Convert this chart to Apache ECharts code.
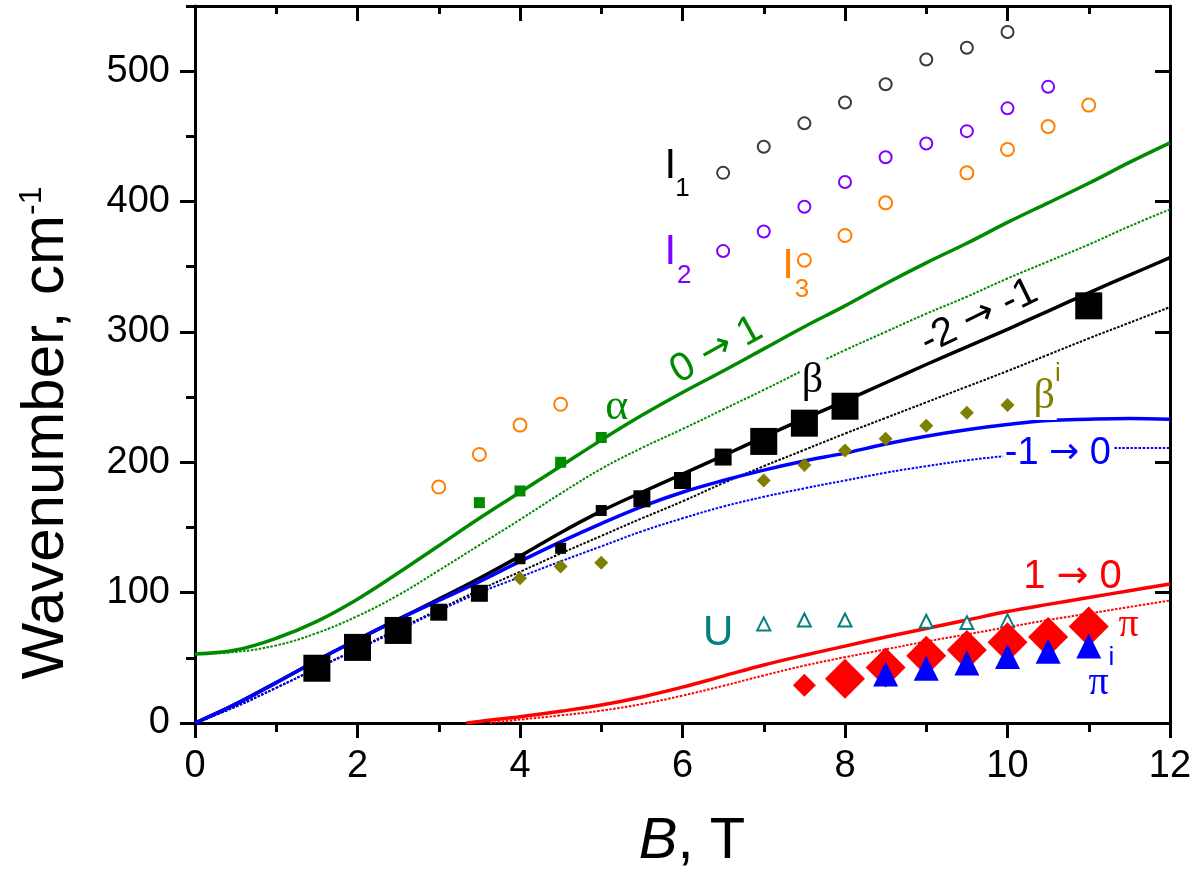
<!DOCTYPE html>
<html><head><meta charset="utf-8">
<script src="https://cdn.jsdelivr.net/npm/echarts@6/dist/echarts.min.js"></script>
<style>html,body{margin:0;padding:0;background:#fff}#c{width:1200px;height:875px}</style>
</head><body><div id="c"></div>
<script>
// ---------- data ----------
const B = [0,0.5,1,1.5,2,2.5,3,3.5,4,4.5,5,5.5,6,6.5,7,7.5,8,8.5,9,9.5,10,10.5,11,11.5,12];
const green01Solid  = [53,56,65,78,95,115,136,157,177,197,217,236,253.5,270,287,304,320,337,353,368,384,399,414,430,445];
const green01Dotted = [53,54.5,59.5,69,82,98,117,136.5,156,176,195,211,225.5,240.5,255.5,271,286,300,314,327,341,354,367,381,394];
const black21Solid  = [0,14.5,31,48,64,79.5,95,111,128,146,162.5,177,191,205,219.5,233.5,247,261,275,288.5,302,316,330,343.5,357];
const black21Dotted = [0,12.5,27,42,57,72,87,102,116,130,143.5,157,170,184,197,209.5,222,234,246,258,270,282.5,295,307,319];
const blue10Solid   = [0,14.5,31,48,64,79.5,94,108.5,124,139,153,166,177,186,194,201,207,214,220,225,229,232,233,233.5,233];
const blue10Dotted  = [0,12.5,27,42,56.5,71,86,100,112,124,135.5,147,157,166,173.5,180,186,192,197,201.5,205,208,210,211,211];
const red10SolidB   = [3.34,3.5,4,4.5,5,5.5,6,6.5,7,7.5,8,8.5,9,9.5,10,10.5,11,11.5,12];
const red10Solid    = [0,1.2,4.8,9,13.8,20,27.5,36,44.5,52,59,66,72.5,79,85.5,91,96.2,101.5,106.6];
const red10DottedB  = [3.63,4,4.5,5,5.5,6,6.5,7,7.5,8,8.5,9,9.5,10,10.5,11,11.5,12];
const red10Dotted   = [0,2.6,5.8,9.5,14.5,21,28.5,36.5,44,50.5,56.5,62.5,68,73.5,79,84,89,94];

const alphaPts   = [[3.5,169],[4,178],[4.5,200],[5,219]];
const betaLarge  = [[1.5,42],[2,58],[2.5,71],[7,216],[7.5,230],[8,243],[11,320]];
const betaMedium = [[3,85],[3.5,99.5],[5.5,172],[6,186],[6.5,204]];
const betaSmall  = [[4,126],[4.5,134],[5,163]];
const betaI      = [[4,111],[4.5,120],[5,123],[7,186],[7.5,198],[8,209],[8.5,218],[9,228],[9.5,238],[10,244]];
const orangeLow  = [[3,181],[3.5,206],[4,228.5],[4.5,244.5]];
const I1 = [[6.5,422],[7,442],[7.5,460],[8,476],[8.5,490],[9,509],[9.5,518],[10,530]];
const I2 = [[6.5,362],[7,377],[7.5,396],[8,415],[8.5,434],[9,444.5],[9.5,454],[10,471.5],[10.5,488]];
const I3 = [[7.5,355],[8,374],[8.5,399],[9.5,422],[10,440],[10.5,457.5],[11,474]];
const U  = [[7,76],[7.5,79],[8,79],[9,78],[9.5,77],[10,78.5]];
const piSmall = [[7.5,29]];
const piLarge = [[8,34],[8.5,42.5],[9,51.5],[9.5,56],[10,62],[10.5,66],[11,74]];
const piI = [[8.5,37.5],[9,42],[9.5,46],[10,51],[10.5,55],[11,59]];

const xTicks = [0,2,4,6,8,10,12];
const yMajor = [0,100,200,300,400,500];
const yMinor = [50,150,250,350,450,550];

// ---------- styling ----------
const SANS = '"Liberation Sans", Arial, sans-serif';
const SERIF = '"Liberation Serif", "Times New Roman", serif';
const ARROWF = '"DejaVu Sans", sans-serif';
const C = {green:'#008a00', blue:'#0000ff', red:'#ff0000', black:'#000000', olive:'#808000',
           teal:'#008080', violet:'#8000ff', orange:'#ff8000', gray:'#3a3a3a'};

function pairs(xs, ys){ return xs.map((x,i)=>[x, ys[i]]); }

const chart = echarts.init(document.getElementById('c'), null, {renderer:'canvas'});

function lineS(data, color, dotted){
  return {type:'line', data, showSymbol:false, symbol:'none', smooth:0.4, silent:true,
    lineStyle:{color, width: dotted?2:3.5, type: dotted?[2.5,1.5]:'solid', opacity:1}, z: dotted?2:3};
}
function scat(data, symbol, size, color, empty){
  return {type:'scatter', data, symbol, symbolSize:size, silent:true, z:5,
    itemStyle: empty ? {color:'#fff', borderColor:color, borderWidth:2, opacity:1} : {color, opacity:1}};
}

const tickLine = {color:'#000', width:3};
const option = {
  animation:false,
  backgroundColor:'#fff',
  grid:{left:195, right:30, top:6, bottom:152, containLabel:false, outerBoundsMode:'none'},
  xAxis:[
    {type:'value', position:'bottom', min:0, max:12, interval:2,
     axisLine:{show:true, onZero:false, lineStyle:tickLine},
     axisTick:{show:true, inside:false, length:15, lineStyle:tickLine},
     minorTick:{show:true, splitNumber:2, length:9, lineStyle:tickLine},
     axisLabel:{show:true, fontSize:38, fontFamily:SANS, color:'#000', margin:25,
                customValues:xTicks},
     splitLine:{show:false}, minorSplitLine:{show:false}},
    {type:'value', position:'top', min:0, max:12, interval:2,
     axisLine:{show:true, onZero:false, lineStyle:tickLine},
     axisTick:{show:true, inside:true, length:15, lineStyle:tickLine},
     minorTick:{show:true, splitNumber:2, length:8, lineStyle:tickLine},
     axisLabel:{show:false}, splitLine:{show:false}}
  ],
  yAxis:[
    {type:'value', position:'left', min:0, max:550,
     axisLine:{show:true, onZero:false, lineStyle:tickLine},
     axisTick:{show:true, inside:false, length:15, lineStyle:tickLine, customValues:yMajor},
     axisLabel:{show:true, fontSize:38, fontFamily:SANS, color:'#000', margin:25, customValues:yMajor},
     splitLine:{show:false}},
    {type:'value', position:'left', min:0, max:550,
     axisLine:{show:false},
     axisTick:{show:true, inside:false, length:9, lineStyle:tickLine, customValues:yMinor},
     axisLabel:{show:false}, splitLine:{show:false}},
    {type:'value', position:'right', min:0, max:550,
     axisLine:{show:true, onZero:false, lineStyle:tickLine},
     axisTick:{show:true, inside:true, length:15, lineStyle:tickLine, customValues:yMajor},
     axisLabel:{show:false}, splitLine:{show:false}},
    {type:'value', position:'right', min:0, max:550,
     axisLine:{show:false},
     axisTick:{show:true, inside:true, length:8, lineStyle:tickLine, customValues:yMinor},
     axisLabel:{show:false}, splitLine:{show:false}}
  ],
  series:[
    lineS(pairs(B, green01Dotted), C.green, true),
    lineS(pairs(B, black21Dotted), C.black, true),
    lineS(pairs(B, blue10Dotted), C.blue, true),
    lineS(pairs(red10DottedB, red10Dotted), C.red, true),
    lineS(pairs(B, green01Solid), C.green, false),
    lineS(pairs(B, black21Solid), C.black, false),
    lineS(pairs(B, blue10Solid), C.blue, false),
    lineS(pairs(red10SolidB, red10Solid), C.red, false),
    scat(I1, 'circle', 12, C.gray, true),
    scat(I2, 'circle', 12, C.violet, true),
    scat(I3, 'circle', 13, C.orange, true),
    scat(orangeLow, 'circle', 13, C.orange, true),
    scat(alphaPts, 'rect', 11, C.green),
    scat(betaSmall, 'rect', 11, C.black),
    scat(betaMedium, 'rect', 17, C.black),
    scat(betaLarge, 'rect', 27, C.black),
    scat(betaI, 'diamond', 14, C.olive),
    scat(U, 'triangle', 13, C.teal, true),
    scat(piSmall, 'diamond', 23, C.red),
    scat(piLarge, 'diamond', 40, C.red),
    scat(piI, 'triangle', 25, C.blue)
  ]
};
chart.setOption(option);

// ---------- annotations (data coordinates) ----------
const notes = [
  {t:'I', x:5.85, y:427, c:C.black, s:42},
  {t:'1', x:6.0, y:410, c:C.black, s:26},
  {t:'I', x:5.85, y:361, c:C.violet, s:42},
  {t:'2', x:6.02, y:343, c:C.violet, s:26},
  {t:'I', x:7.3, y:350, c:C.orange, s:42},
  {t:'3', x:7.47, y:332, c:C.orange, s:26},
  {t:'α', x:5.19, y:242, c:C.green, s:44, f:SERIF},
  {t:'0 → 1', x:6.42, y:286, c:C.green, s:40, r:29},
  {t:'β', x:7.6, y:262, c:C.black, s:42, f:SERIF, bg:true},
  {t:'-2 → -1', x:9.65, y:311.6, c:C.black, s:40, r:26},
  {t:'β', x:10.45, y:250, c:C.olive, s:42, f:SERIF, bg:true},
  {t:'i', x:10.62, y:268, c:C.olive, s:26},
  {t:'-1 → 0', x:10.62, y:205, c:C.blue, s:38, bg:true},
  {t:'1 → 0', x:10.8, y:112, c:C.red, s:40},
  {t:'U', x:6.44, y:69, c:C.teal, s:42},
  {t:'π', x:11.49, y:75, c:C.red, s:40, f:SERIF},
  {t:'π', x:11.12, y:30.4, c:C.blue, s:40, f:SERIF},
  {t:'i', x:11.28, y:50, c:C.blue, s:26}
];
function richText(n){
  const parts = n.t.split('→');
  if (parts.length === 1) return null;
  return '{a|' + parts[0] + '}{r|→}{a|' + parts[1] + '}';
}
const graphics = notes.map(n => {
  const p = chart.convertToPixel({xAxisIndex:0, yAxisIndex:0}, [n.x, n.y]);
  const st = {fill:n.c, fontSize:n.s, fontFamily:n.f||SANS, align:'center', verticalAlign:'middle'};
  const rt = richText(n);
  if (rt) {
    st.text = rt;
    st.rich = {a:{fontSize:n.s, fontFamily:SANS, fill:n.c}, r:{fontSize:n.s*0.95, fontFamily:ARROWF, fill:n.c}};
  } else {
    st.text = n.t;
  }
  if (n.bg) { st.backgroundColor = '#fff'; st.padding = [0,2,4,2]; }
  return {type:'text', x:p[0], y:p[1], rotation:(n.r||0)*Math.PI/180, z:50, silent:true, style:st};
});
graphics.push({type:'text', x:692, y:842, silent:true, style:{
  text:'{b|B}{n|, T}', align:'center', verticalAlign:'middle', fill:'#000',
  rich:{b:{fontSize:58, fontStyle:'italic', fontFamily:SANS, fill:'#000'}, n:{fontSize:58, fontFamily:SANS, fill:'#000'}}}});
graphics.push({type:'text', x:46, y:433, rotation:Math.PI/2, silent:true, style:{
  text:'{a|Wavenumber, cm}{s|-1}', align:'center', verticalAlign:'middle', fill:'#000',
  rich:{a:{fontSize:60, fontFamily:SANS, fill:'#000'}, s:{fontSize:32, fontFamily:SANS, fill:'#000', verticalAlign:'top', lineHeight:30}}}});
chart.setOption({graphic: graphics});
</script>
</body></html>
